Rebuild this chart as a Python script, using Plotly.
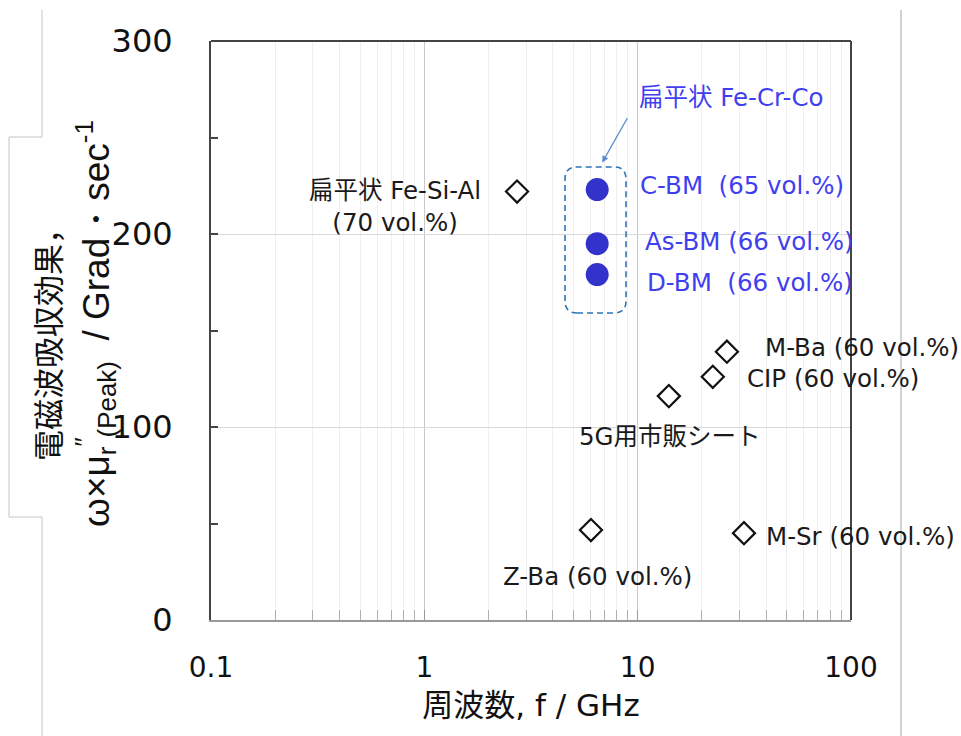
import math
import plotly.graph_objects as go

# ---------------- data ----------------
ref_names = ["扁平状 Fe-Si-Al<br>(70 vol.%)", "M-Ba (60 vol.%)", "CIP (60 vol.%)",
             "5G用市販シート", "Z-Ba (60 vol.%)", "M-Sr (60 vol.%)"]
ref_freq = [2.72, 26.2, 22.5, 14.0, 6.04, 31.5]
ref_value = [222, 139, 126, 116, 46.6, 45]

bm_names = ["C-BM  (65 vol.%)", "As-BM (66 vol.%)", "D-BM  (66 vol.%)"]
bm_freq = [6.46, 6.46, 6.46]
bm_value = [223, 195, 179]

x_tick_vals = [0.1, 1, 10, 100]
x_tick_text = ["0.1", "1", "10", "100"]
y_tick_vals = [0, 100, 200, 300]

# ---------------- layout helpers ----------------
W, H = 961, 736
L, R, T, B = 211, 851, 41, 620


def px(xp):
    return (xp - L) / (R - L)


def py(yp):
    return (B - yp) / (B - T)


LABEL_FONT = dict(family="DejaVu Sans, Noto Sans CJK JP", size=24.5, color="#1a1a1a")
BLUE_FONT = dict(family="DejaVu Sans, Noto Sans CJK JP", size=24.5, color="#3f3ff0")

fig = go.Figure()

fig.add_trace(go.Scatter(
    x=ref_freq, y=ref_value, mode="markers",
    marker=dict(symbol="diamond-open", size=17, color="#111111", line=dict(width=2.2, color="#111111")),
    showlegend=False, hoverinfo="skip"))

fig.add_trace(go.Scatter(
    x=bm_freq, y=bm_value, mode="markers",
    marker=dict(symbol="circle", size=23, color="#3333cc", line=dict(width=0)),
    showlegend=False, hoverinfo="skip"))

annotations = []
# label offsets (pixels) relative to markers
ref_offsets = [(-122, -15, "center"), (36, 4, "left"), (32, -2, "left"),
               (1, -40, "center"), (7, -46, "center"), (20, -3, "left")]
for name, f, v, (dx, dy, anc) in zip(ref_names, ref_freq, ref_value, ref_offsets):
    annotations.append(dict(x=math.log10(f), y=v, xref="x", yref="y", text=name, showarrow=False,
                            xanchor=anc, yanchor="middle", xshift=dx, yshift=dy,
                            font=LABEL_FONT, align="center"))

bm_offsets = [(41, 4), (46, 2), (48, -8)]
for name, f, v, (dx, dy) in zip(bm_names, bm_freq, bm_value, bm_offsets):
    annotations.append(dict(x=math.log10(f), y=v, xref="x", yref="y", text=name, showarrow=False,
                            xanchor="left", yanchor="middle", xshift=dx, yshift=dy,
                            font=BLUE_FONT))

# group title + arrow
annotations.append(dict(x=math.log10(bm_freq[0]), y=bm_value[0], xref="x", yref="y",
                        text="扁平状 Fe-Cr-Co", showarrow=False, xanchor="center",
                        yanchor="middle", xshift=134, yshift=92, font=BLUE_FONT))
annotations.append(dict(x=math.log10(bm_freq[0]), y=bm_value[0], xref="x", yref="y", text="",
                        showarrow=True, arrowhead=2, arrowsize=1.1, arrowwidth=1.2,
                        arrowcolor="#5b8bd0", ax=26, ay=-46, axref="pixel", ayref="pixel",
                        xshift=5, yshift=27, standoff=0, startstandoff=0))

# y axis title (two rotated lines)
annotations.append(dict(x=px(46), y=py(337), xref="paper", yref="paper",
                        text="電磁波吸収効果，", showarrow=False, textangle=-90,
                        xanchor="center", yanchor="middle",
                        font=dict(family="Noto Sans CJK JP", size=31, color="#111111")))
annotations.append(dict(x=px(95), y=py(324), xref="paper", yref="paper",
                        text="ω×μ<sub>r</sub><sup>″</sup><sub>(Peak)</sub>  / Grad・sec<sup>-1</sup>",
                        showarrow=False, textangle=-90, xanchor="center", yanchor="middle",
                        font=dict(family="Liberation Sans", size=37, color="#111111")))

shapes = []
# plot border top and right (dark)
shapes.append(dict(type="line", xref="paper", yref="paper", x0=0, x1=1, y0=1, y1=1,
                   line=dict(color="#444444", width=2)))
shapes.append(dict(type="line", xref="paper", yref="paper", x0=1, x1=1, y0=0, y1=1,
                   line=dict(color="#444444", width=2)))

# dashed rounded box around BM group
x0, x1, y0, y1 = px(565), px(626), py(313), py(167)
rx, ry = 12 / (R - L), 12 / (B - T)
path = (f"M {x0+rx},{y0} L {x1-rx},{y0} Q {x1},{y0} {x1},{y0+ry} "
        f"L {x1},{y1-ry} Q {x1},{y1} {x1-rx},{y1} L {x0+rx},{y1} "
        f"Q {x0},{y1} {x0},{y1-ry} L {x0},{y0+ry} Q {x0},{y0} {x0+rx},{y0} Z")
shapes.append(dict(type="path", xref="paper", yref="paper", path=path,
                   line=dict(color="#2e75b6", width=1.6, dash="6px,4px")))

# decorative outline lines seen outside the chart
outline = (f"M {px(42)},{py(10)} L {px(42)},{py(137)} L {px(9)},{py(137)} "
           f"L {px(9)},{py(517)} L {px(42)},{py(517)} L {px(42)},{py(736)}")
shapes.append(dict(type="path", xref="paper", yref="paper", path=outline,
                   line=dict(color="#c4c4c4", width=1)))
shapes.append(dict(type="line", xref="paper", yref="paper", x0=px(901), x1=px(901),
                   y0=py(10), y1=py(736), line=dict(color="#c4c4c4", width=1.5)))

minor_x = [m * 10 ** e for e in (-1, 0, 1) for m in range(2, 10)]

fig.update_layout(
    width=W, height=H,
    margin=dict(l=L, r=W - R, t=T, b=H - B),
    paper_bgcolor="white", plot_bgcolor="white",
    annotations=annotations, shapes=shapes,
    xaxis=dict(type="log", range=[-1, 2], tickvals=x_tick_vals, ticktext=x_tick_text,
               showgrid=True, gridcolor="#c8c8c8", gridwidth=1,
               showline=True, linecolor="#9a9a9a", linewidth=1.5,
               ticks="inside", ticklen=10, tickcolor="#9a9a9a", tickwidth=1,
               ticklabelstandoff=22,
               minor=dict(tickvals=minor_x, ticks="inside", ticklen=10, tickcolor="#b0b0b0",
                          showgrid=True, gridcolor="#efefef", gridwidth=1),
               tickfont=dict(family="DejaVu Sans", size=28, color="#111111"),
               title=dict(text="周波数, f / GHz", standoff=11,
                          font=dict(family="DejaVu Sans, Noto Sans CJK JP", size=31, color="#111111")),
               zeroline=False),
    yaxis=dict(range=[0, 300], tickvals=y_tick_vals,
               showgrid=True, gridcolor="#d9d9d9", gridwidth=1,
               showline=True, linecolor="#444444", linewidth=2,
               ticks="inside", ticklen=7, tickcolor="#444444", tickwidth=1.5,
               ticklabelstandoff=30,
               minor=dict(dtick=50, ticks="inside", ticklen=7, tickcolor="#444444", showgrid=False),
               tickfont=dict(family="DejaVu Sans", size=32, color="#111111"),
               zeroline=False),
)

fig.write_html("out.html", config={"displayModeBar": False},
               post_script="document.body.style.margin='0';")
